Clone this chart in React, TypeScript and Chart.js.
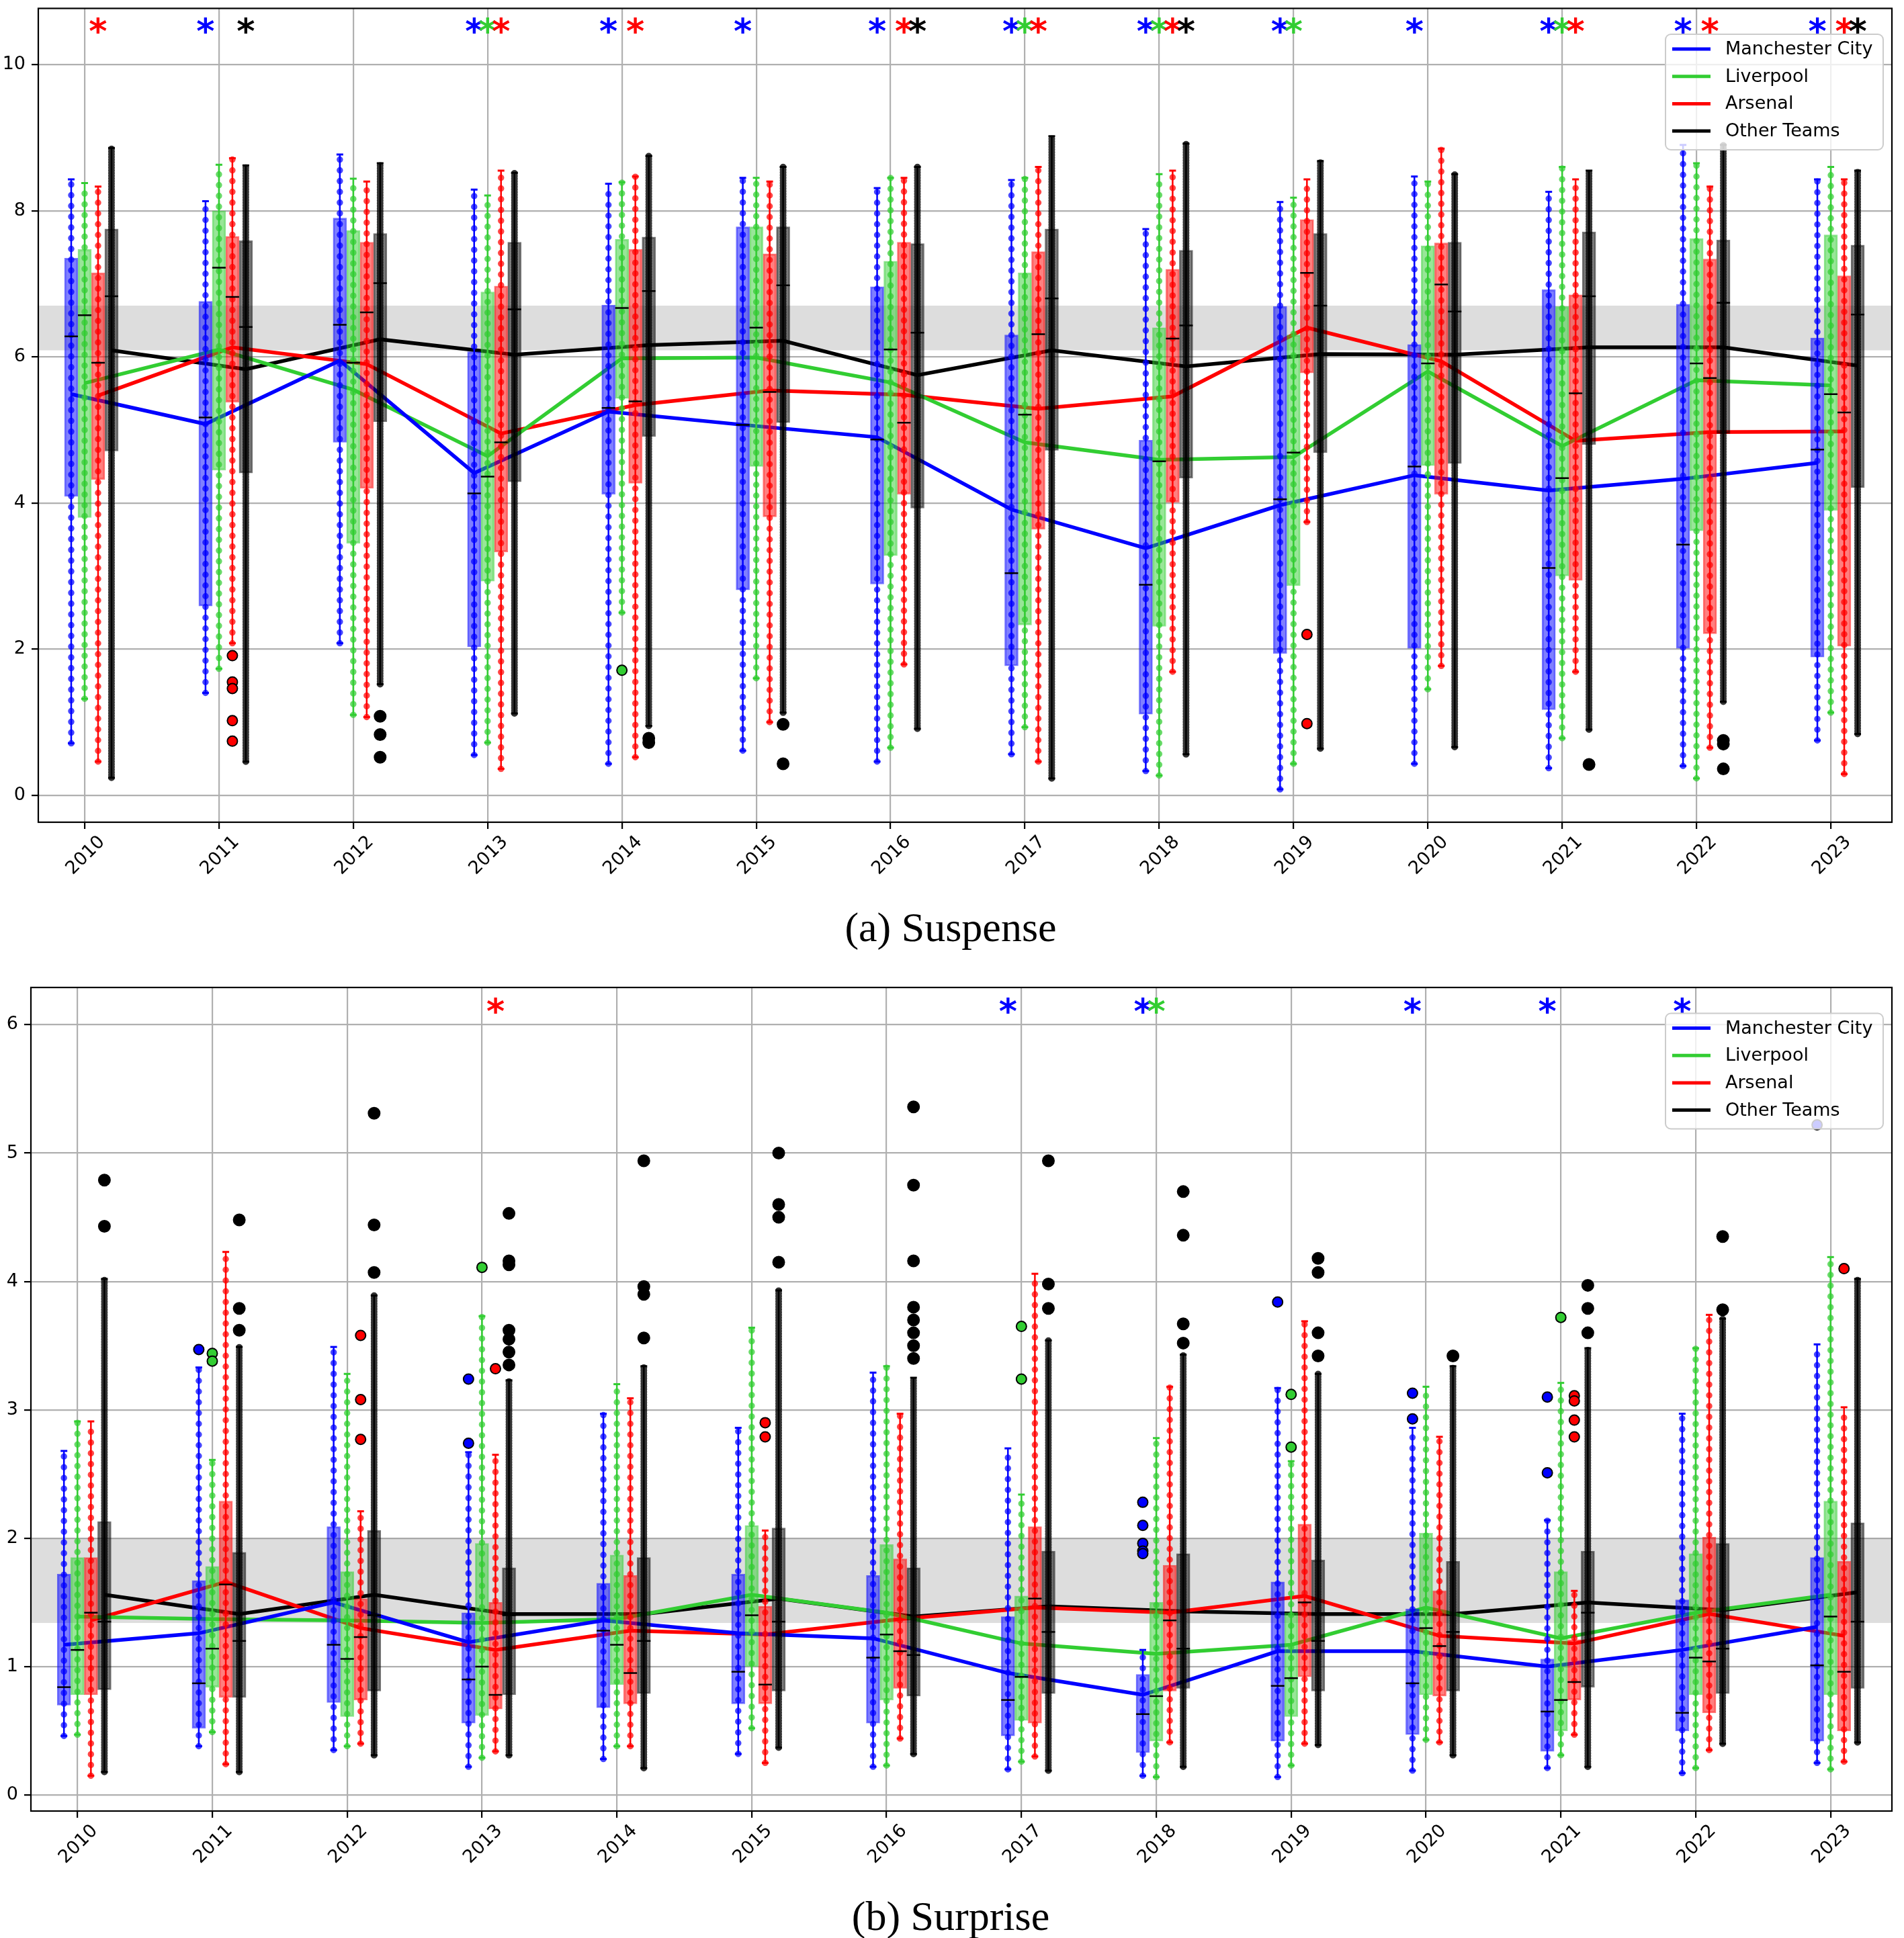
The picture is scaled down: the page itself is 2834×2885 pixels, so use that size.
import React, { useEffect, useRef } from 'react';
import { Chart, registerables } from 'chart.js';

Chart.register(...registerables);

// ---------- categories ----------
const YEARS = ['2010', '2011', '2012', '2013', '2014', '2015', '2016', '2017', '2018', '2019', '2020', '2021', '2022', '2023'];
const TEAMS = ['Manchester City', 'Liverpool', 'Arsenal', 'Other Teams'];

// box tuples: [whisker low, q1, median, q3, whisker high]
type Box = [number, number, number, number, number];

// ---------- (a) Suspense ----------
const SUS_Y_TICKS = [0, 2, 4, 6, 8, 10];
const SUS_BAND = [6.09, 6.7];
const SUS_SIG_Y = 10.54;
const SUS_BOX_MC: Box[] = [
  [0.71, 4.09, 6.28, 7.35, 8.43], [1.4, 2.59, 5.17, 6.76, 8.13], [2.08, 4.83, 6.44, 7.9, 8.77], [0.55, 2.03, 4.13, 6.07, 8.29],
  [0.43, 4.12, 5.3, 6.71, 8.37], [0.61, 2.81, 5.07, 7.78, 8.45], [0.46, 2.89, 4.87, 6.96, 8.31], [0.56, 1.77, 3.04, 6.3, 8.42],
  [0.33, 1.11, 2.88, 4.86, 7.75], [0.08, 1.94, 4.05, 6.69, 8.12], [0.43, 2.01, 4.5, 6.17, 8.47], [0.37, 1.17, 3.11, 6.92, 8.26],
  [0.4, 2.01, 3.43, 6.72, 8.9], [0.75, 1.89, 4.73, 6.26, 8.43],
];
const SUS_BOX_LIV: Box[] = [
  [1.32, 3.8, 6.57, 7.47, 8.38], [1.73, 4.45, 7.22, 8.0, 8.63], [1.1, 3.45, 5.92, 7.73, 8.44], [0.72, 2.93, 4.36, 6.89, 8.21],
  [2.5, 5.43, 6.67, 7.61, 8.39], [1.6, 4.5, 6.4, 7.78, 8.45], [0.65, 3.28, 6.1, 7.31, 8.45], [0.93, 2.33, 5.21, 7.15, 8.45],
  [0.27, 2.31, 4.57, 6.4, 8.5], [0.43, 2.87, 4.69, 6.3, 8.18], [1.45, 4.51, 5.91, 7.52, 8.4], [0.78, 3.0, 4.34, 6.69, 8.6],
  [0.23, 3.62, 5.91, 7.62, 8.65], [1.13, 3.9, 5.49, 7.67, 8.6],
];
const SUS_BOX_ARS: Box[] = [
  [0.46, 4.32, 5.92, 7.15, 8.33], [2.08, 5.38, 6.82, 7.65, 8.72], [1.07, 4.2, 6.61, 7.57, 8.4], [0.36, 3.33, 4.83, 6.97, 8.55],
  [0.52, 4.27, 5.39, 7.47, 8.47], [1.0, 3.81, 5.52, 7.41, 8.4], [1.79, 4.12, 5.1, 7.57, 8.45], [0.46, 3.64, 6.31, 7.44, 8.6],
  [1.69, 4.01, 6.25, 7.2, 8.55], [3.74, 5.78, 7.15, 7.88, 8.43], [1.77, 4.12, 6.99, 7.56, 8.85], [1.69, 2.94, 5.5, 6.85, 8.43],
  [0.65, 2.21, 5.71, 7.34, 8.33], [0.29, 2.04, 5.24, 7.11, 8.43],
];
const SUS_BOX_OTH: Box[] = [
  [0.24, 4.71, 6.83, 7.75, 8.86], [0.46, 4.41, 6.41, 7.59, 8.62], [1.52, 5.11, 7.01, 7.69, 8.65], [1.12, 4.29, 6.65, 7.57, 8.52],
  [0.95, 4.91, 6.9, 7.64, 8.75], [1.13, 5.1, 6.98, 7.78, 8.6], [0.91, 3.93, 6.33, 7.55, 8.6], [0.23, 4.72, 6.8, 7.75, 9.02],
  [0.56, 4.34, 6.43, 7.46, 8.92], [0.64, 4.69, 6.7, 7.69, 8.68], [0.66, 4.54, 6.62, 7.57, 8.5], [0.9, 4.8, 6.83, 7.71, 8.55],
  [1.28, 4.95, 6.74, 7.6, 8.9], [0.84, 4.21, 6.58, 7.53, 8.55],
];
const SUS_MEAN_MC = [5.49, 5.08, 5.95, 4.41, 5.25, 5.07, 4.9, 3.91, 3.38, 3.97, 4.38, 4.17, 4.33, 4.55];
const SUS_MEAN_LIV = [5.64, 6.1, 5.55, 4.64, 5.98, 5.99, 5.65, 4.83, 4.59, 4.63, 5.8, 4.78, 5.68, 5.61];
const SUS_MEAN_ARS = [5.47, 6.13, 5.9, 4.95, 5.34, 5.54, 5.48, 5.29, 5.46, 6.4, 5.94, 4.85, 4.97, 4.98];
const SUS_MEAN_OTH = [6.09, 5.83, 6.24, 6.03, 6.16, 6.22, 5.75, 6.09, 5.87, 6.04, 6.03, 6.13, 6.13, 5.88];
// outliers: [year index, value]
const SUS_OUT_MC: [number, number][] = [];
const SUS_OUT_LIV: [number, number][] = [[4, 1.71]];
const SUS_OUT_ARS: [number, number][] = [[1, 1.91], [1, 1.55], [1, 1.46], [1, 1.02], [1, 0.74], [9, 2.2], [9, 0.98]];
const SUS_OUT_OTH: [number, number][] = [
  [2, 1.08], [2, 0.83], [2, 0.52], [4, 0.78], [4, 0.72], [5, 0.97], [5, 0.43], [11, 0.42], [12, 0.75], [12, 0.7], [12, 0.36],
];
// significance marks: team indices per year
const SUS_SIG = [[2], [0, 3], [], [0, 1, 2], [0, 2], [0], [0, 2, 3], [0, 1, 2], [0, 1, 2, 3], [0, 1], [0], [0, 1, 2], [0, 2], [0, 2, 3]];

// ---------- (b) Surprise ----------
const SUR_Y_TICKS = [0, 1, 2, 3, 4, 5, 6];
const SUR_BAND = [1.34, 2.0];
const SUR_SIG_Y = 6.15;
const SUR_BOX_MC: Box[] = [
  [0.46, 0.7, 0.84, 1.72, 2.68], [0.38, 0.52, 0.87, 1.67, 3.33], [0.35, 0.72, 1.17, 2.09, 3.49], [0.22, 0.56, 0.9, 1.42, 2.67],
  [0.28, 0.68, 1.28, 1.65, 2.97], [0.32, 0.71, 0.96, 1.72, 2.86], [0.22, 0.56, 1.07, 1.71, 3.29], [0.2, 0.46, 0.74, 1.39, 2.7],
  [0.15, 0.33, 0.63, 0.94, 1.13], [0.14, 0.42, 0.85, 1.66, 3.17], [0.19, 0.47, 0.87, 1.45, 2.86], [0.21, 0.34, 0.65, 1.06, 2.14],
  [0.17, 0.5, 0.64, 1.52, 2.97], [0.25, 0.42, 1.01, 1.85, 3.51],
];
const SUR_BOX_LIV: Box[] = [
  [0.47, 0.78, 1.13, 1.85, 2.91], [0.49, 0.84, 1.14, 1.78, 2.61], [0.38, 0.61, 1.06, 1.74, 3.28], [0.29, 0.62, 1.0, 1.96, 3.73],
  [0.38, 0.86, 1.17, 1.87, 3.2], [0.52, 1.0, 1.4, 2.1, 3.64], [0.23, 0.74, 1.25, 1.95, 3.34], [0.26, 0.58, 0.92, 1.55, 2.34],
  [0.14, 0.42, 0.77, 1.5, 2.78], [0.23, 0.61, 0.91, 1.42, 2.6], [0.43, 0.78, 1.3, 2.04, 3.18], [0.31, 0.5, 0.74, 1.74, 3.21],
  [0.21, 0.78, 1.07, 1.88, 3.48], [0.2, 0.78, 1.39, 2.29, 4.19],
];
const SUR_BOX_ARS: Box[] = [
  [0.15, 0.78, 1.42, 1.85, 2.91], [0.24, 0.76, 1.64, 2.29, 4.23], [0.4, 0.74, 1.23, 1.53, 2.21], [0.34, 0.67, 0.78, 1.5, 2.65],
  [0.38, 0.71, 0.95, 1.71, 3.09], [0.25, 0.71, 0.86, 1.47, 2.06], [0.44, 0.83, 1.12, 1.84, 2.97], [0.3, 0.56, 1.53, 2.09, 4.06],
  [0.41, 0.81, 1.36, 1.79, 3.18], [0.4, 0.92, 1.5, 2.11, 3.69], [0.41, 0.77, 1.16, 1.59, 2.79], [0.47, 0.74, 0.88, 1.21, 1.59],
  [0.35, 0.64, 1.04, 2.01, 3.74], [0.26, 0.5, 0.96, 1.82, 3.02],
];
const SUR_BOX_OTH: Box[] = [
  [0.18, 0.82, 1.35, 2.13, 4.02], [0.18, 0.76, 1.2, 1.89, 3.49], [0.31, 0.81, 1.4, 2.06, 3.89], [0.31, 0.78, 1.4, 1.77, 3.23],
  [0.21, 0.79, 1.2, 1.85, 3.34], [0.37, 0.81, 1.35, 2.08, 3.93], [0.32, 0.77, 1.09, 1.77, 3.25], [0.19, 0.79, 1.27, 1.9, 3.54],
  [0.22, 0.83, 1.14, 1.88, 3.43], [0.39, 0.81, 1.2, 1.83, 3.28], [0.31, 0.81, 1.27, 1.82, 3.34], [0.22, 0.84, 1.42, 1.9, 3.48],
  [0.4, 0.79, 1.14, 1.96, 3.71], [0.41, 0.83, 1.35, 2.12, 4.02],
];
const SUR_MEAN_MC = [1.17, 1.26, 1.5, 1.19, 1.36, 1.26, 1.22, 0.95, 0.78, 1.12, 1.12, 1.0, 1.13, 1.31];
const SUR_MEAN_LIV = [1.39, 1.37, 1.36, 1.34, 1.37, 1.56, 1.42, 1.18, 1.1, 1.17, 1.46, 1.22, 1.42, 1.56];
const SUR_MEAN_ARS = [1.36, 1.66, 1.3, 1.13, 1.28, 1.25, 1.37, 1.46, 1.42, 1.55, 1.24, 1.18, 1.41, 1.24];
const SUR_MEAN_OTH = [1.56, 1.41, 1.56, 1.41, 1.41, 1.53, 1.39, 1.47, 1.43, 1.41, 1.41, 1.5, 1.44, 1.58];
const SUR_OUT_MC: [number, number][] = [
  [1, 3.47], [3, 3.24], [3, 2.74], [8, 2.28], [8, 2.1], [8, 1.96], [8, 1.9], [8, 1.88], [9, 3.84], [10, 3.13], [10, 2.93],
  [11, 3.1], [11, 2.51], [13, 5.22],
];
const SUR_OUT_LIV: [number, number][] = [[1, 3.44], [1, 3.38], [3, 4.11], [7, 3.65], [7, 3.24], [9, 3.12], [9, 2.71], [11, 3.72]];
const SUR_OUT_ARS: [number, number][] = [
  [2, 3.58], [2, 3.08], [2, 2.77], [3, 3.32], [5, 2.9], [5, 2.79], [11, 3.11], [11, 3.07], [11, 2.92], [11, 2.79], [13, 4.1],
];
const SUR_OUT_OTH: [number, number][] = [
  [0, 4.79], [0, 4.43], [1, 4.48], [1, 3.79], [1, 3.62], [2, 5.31], [2, 4.44], [2, 4.07],
  [3, 4.53], [3, 4.16], [3, 4.13], [3, 3.62], [3, 3.55], [3, 3.45], [3, 3.35],
  [4, 4.94], [4, 3.96], [4, 3.9], [4, 3.56], [5, 5.0], [5, 4.6], [5, 4.5], [5, 4.15],
  [6, 5.36], [6, 4.75], [6, 4.16], [6, 3.8], [6, 3.7], [6, 3.6], [6, 3.5], [6, 3.4],
  [7, 4.94], [7, 3.98], [7, 3.79], [8, 4.7], [8, 4.36], [8, 3.67], [8, 3.52],
  [9, 4.18], [9, 4.07], [9, 3.6], [9, 3.42], [10, 3.42], [11, 3.97], [11, 3.79], [11, 3.6], [12, 4.35], [12, 3.78],
];
const SUR_SIG = [[], [], [], [2], [], [], [], [0], [0, 1], [], [0], [0], [0], []];

// ---------- styling ----------
const RGB = ['0,0,255', '50,205,50', '255,0,0', '0,0,0'];
const OFFS = [-0.1, 0, 0.1, 0.2];
const X_MIN = -0.345;
const X_MAX = 13.455;
const TICK_FONT = { family: 'DejaVu Sans', size: 27 };

interface Spec {
  boxes: Box[][];
  means: number[][];
  outliers: [number, number][][];
  sig: number[][];
  sigY: number;
  band: number[];
  yTicks: number[];
  yMin: number;
  yMax: number;
}

const SUSPENSE: Spec = {
  boxes: [SUS_BOX_MC, SUS_BOX_LIV, SUS_BOX_ARS, SUS_BOX_OTH],
  means: [SUS_MEAN_MC, SUS_MEAN_LIV, SUS_MEAN_ARS, SUS_MEAN_OTH],
  outliers: [SUS_OUT_MC, SUS_OUT_LIV, SUS_OUT_ARS, SUS_OUT_OTH],
  sig: SUS_SIG,
  sigY: SUS_SIG_Y,
  band: SUS_BAND,
  yTicks: SUS_Y_TICKS,
  yMin: -0.37,
  yMax: 10.77,
};
const SURPRISE: Spec = {
  boxes: [SUR_BOX_MC, SUR_BOX_LIV, SUR_BOX_ARS, SUR_BOX_OTH],
  means: [SUR_MEAN_MC, SUR_MEAN_LIV, SUR_MEAN_ARS, SUR_MEAN_OTH],
  outliers: [SUR_OUT_MC, SUR_OUT_LIV, SUR_OUT_ARS, SUR_OUT_OTH],
  sig: SUR_SIG,
  sigY: SUR_SIG_Y,
  band: SUR_BAND,
  yTicks: SUR_Y_TICKS,
  yMin: -0.125,
  yMax: 6.29,
};

function makeDatasets(spec: Spec): any[] {
  const ds: any[] = [];
  ds.push({
    type: 'line', data: [{ x: X_MIN, y: spec.band[1] }, { x: X_MAX, y: spec.band[1] }],
    borderWidth: 0, borderColor: 'rgba(0,0,0,0)', pointRadius: 0, fill: false, order: 100,
  });
  ds.push({
    type: 'line', data: [{ x: X_MIN, y: spec.band[0] }, { x: X_MAX, y: spec.band[0] }],
    borderWidth: 0, borderColor: 'rgba(0,0,0,0)', pointRadius: 0, fill: '-1',
    backgroundColor: 'rgba(128,128,128,0.27)', order: 99,
  });
  TEAMS.forEach((_, t) => {
    const col = RGB[t];
    const off = OFFS[t];
    ds.push({
      type: 'line', data: spec.means[t].map((v, i) => ({ x: i + off, y: v })),
      borderColor: `rgb(${col})`, borderWidth: 5.5, pointRadius: 0, fill: false, order: 90,
    });
    ds.push({
      type: 'bar', data: spec.boxes[t].map((b, i) => ({ x: i + off, y: [b[1], b[3]] })),
      backgroundColor: `rgba(${col},0.5)`, borderColor: `rgba(${col},0.55)`, borderWidth: 2,
      borderSkipped: false, barThickness: 20, grouped: false, order: 80,
    });
    const seg = spec.boxes[t].flatMap((b, i) => [
      { x: i + off, y: b[0] }, { x: i + off, y: b[4] }, { x: i + off, y: null },
    ]);
    ds.push({
      type: 'line', data: seg, borderColor: `rgb(${col})`, borderWidth: 2.5, pointRadius: 0,
      spanGaps: false, fill: false, order: 70,
    });
    // whisker caps
    ds.push({
      type: 'scatter',
      data: spec.boxes[t].flatMap((b, i) => [{ x: i + off, y: b[0] }, { x: i + off, y: b[4] }]),
      pointStyle: 'line', pointRadius: 5, pointBorderWidth: 3, pointBorderColor: `rgb(${col})`,
      showLine: false, order: 65,
    });
    // strip of observations along the whisker
    ds.push({
      type: 'line', data: seg, borderColor: t === 3 ? 'rgba(0,0,0,0.8)' : `rgba(${col},0.72)`,
      borderWidth: t === 3 ? 10 : 9.5, borderDash: t === 3 ? [0, 4] : [0, 16], borderCapStyle: 'round', pointRadius: 0,
      spanGaps: false, fill: false, order: 60,
    });
    ds.push({
      type: 'scatter', data: spec.boxes[t].map((b, i) => ({ x: i + off, y: b[2] })),
      pointStyle: 'line', pointRadius: 10, pointBorderWidth: 2.5, pointBorderColor: '#000',
      pointBackgroundColor: '#000', showLine: false, order: 50,
    });
    ds.push({
      type: 'scatter', data: spec.outliers[t].map(([i, v]) => ({ x: i + off, y: v })),
      pointRadius: t === 3 ? 8.5 : 7.5, pointBackgroundColor: `rgb(${col})`, pointBorderColor: '#000',
      pointBorderWidth: 2, showLine: false, order: 40,
    });
  });
  return ds;
}

function buildChart(canvas: HTMLCanvasElement, spec: Spec, yAxisW: number, xAxisH: number, padTop: number) {
  const framePlugin = {
    id: 'frame',
    afterDraw(chart: any) {
      const { ctx, chartArea: a } = chart;
      ctx.save();
      ctx.strokeStyle = '#000';
      ctx.lineWidth = 2.2;
      ctx.strokeRect(a.left, a.top, a.right - a.left, a.bottom - a.top);
      ctx.restore();
    },
  };
  const sigPlugin = {
    id: 'sig',
    afterDatasetsDraw(chart: any) {
      const { ctx } = chart;
      const xs = chart.scales.x;
      const ys = chart.scales.y;
      ctx.save();
      ctx.font = 'bold 52px "DejaVu Sans"';
      ctx.textAlign = 'center';
      ctx.textBaseline = 'alphabetic';
      const m = ctx.measureText('*');
      const asc = m.actualBoundingBoxAscent;
      const desc = m.actualBoundingBoxDescent;
      const cy = ys.getPixelForValue(spec.sigY);
      spec.sig.forEach((teams, i) => {
        teams.forEach((t) => {
          ctx.fillStyle = `rgb(${RGB[t]})`;
          ctx.fillText('*', xs.getPixelForValue(i + OFFS[t]), cy + (asc - desc) / 2);
        });
      });
      ctx.restore();
    },
  };
  const legendPlugin = {
    id: 'customLegend',
    afterDraw(chart: any) {
      const { ctx, chartArea: a } = chart;
      const w = 324;
      const h = 172;
      const x0 = a.right - 13 - w;
      const y0 = a.top + 38.5;
      ctx.save();
      ctx.beginPath();
      ctx.roundRect(x0, y0, w, h, 8);
      ctx.fillStyle = 'rgba(255,255,255,0.8)';
      ctx.fill();
      ctx.strokeStyle = '#cccccc';
      ctx.lineWidth = 2;
      ctx.stroke();
      ctx.font = '27px "DejaVu Sans"';
      ctx.textAlign = 'left';
      ctx.textBaseline = 'middle';
      TEAMS.forEach((name, k) => {
        const cy = y0 + 22 + k * 40.7;
        ctx.strokeStyle = `rgb(${RGB[k]})`;
        ctx.lineWidth = 5;
        ctx.beginPath();
        ctx.moveTo(x0 + 10, cy);
        ctx.lineTo(x0 + 67, cy);
        ctx.stroke();
        ctx.fillStyle = '#000';
        ctx.fillText(name, x0 + 89, cy + 1);
      });
      ctx.restore();
    },
  };

  const gridOpts = {
    color: '#b0b0b0', lineWidth: 2.2, tickColor: '#000', tickLength: 10, tickWidth: 2.2, drawTicks: true, offset: false,
  };

  return new Chart(canvas, {
    type: 'bar',
    data: { datasets: makeDatasets(spec) },
    options: {
      responsive: false,
      animation: false,
      devicePixelRatio: 1,
      events: [],
      layout: { padding: { top: padTop, right: 18, left: 0, bottom: 0 } },
      plugins: { legend: { display: false }, tooltip: { enabled: false } },
      scales: {
        x: {
          type: 'linear',
          min: X_MIN,
          max: X_MAX,
          offset: false,
          afterBuildTicks: (ax: any) => { ax.ticks = YEARS.map((_, i) => ({ value: i })); },
          afterFit: (ax: any) => {
            ax.height = xAxisH;
            ax.paddingLeft = 0; ax.paddingRight = 0; ax.paddingTop = 0; ax.paddingBottom = 0;
          },
          ticks: {
            autoSkip: false, maxRotation: 45, minRotation: 45, font: TICK_FONT, color: '#000',
            padding: 4, labelOffset: 26,
            callback: (v: any) => YEARS[Math.round(Number(v))],
          },
          grid: gridOpts,
          border: { display: false },
        },
        y: {
          type: 'linear',
          min: spec.yMin,
          max: spec.yMax,
          afterBuildTicks: (ax: any) => { ax.ticks = spec.yTicks.map((v) => ({ value: v })); },
          afterFit: (ax: any) => {
            ax.width = yAxisW;
            ax.paddingLeft = 0; ax.paddingRight = 0; ax.paddingTop = 0; ax.paddingBottom = 0;
          },
          ticks: { font: TICK_FONT, color: '#000', padding: 9, callback: (v: any) => String(v) },
          grid: gridOpts,
          border: { display: false },
        },
      },
    } as any,
    plugins: [framePlugin, sigPlugin, legendPlugin],
  } as any);
}

const captionStyle: React.CSSProperties = {
  position: 'absolute', left: 0, width: 2830, textAlign: 'center',
  fontFamily: '"Liberation Serif", serif', fontSize: 62, lineHeight: '62px', color: '#000',
};

export default function App() {
  const r1 = useRef<HTMLCanvasElement>(null);
  const r2 = useRef<HTMLCanvasElement>(null);
  useEffect(() => {
    const c1 = buildChart(r1.current as HTMLCanvasElement, SUSPENSE, 57, 1330 - 1224, 5.5);
    const c2 = buildChart(r2.current as HTMLCanvasElement, SURPRISE, 46, 1380 - 1276, 50);
    return () => { c1.destroy(); c2.destroy(); };
  }, []);
  return (
    <div style={{ position: 'absolute', left: 0, top: 0, width: 2834, height: 2885, background: '#fff', overflow: 'hidden' }}>
      <canvas ref={r1} width={2834} height={1330} style={{ position: 'absolute', left: 0, top: 0, width: 2834, height: 1330 }} />
      <div style={{ ...captionStyle, top: 1349 }}>(a) Suspense</div>
      <canvas ref={r2} width={2834} height={1380} style={{ position: 'absolute', left: 0, top: 1420, width: 2834, height: 1380 }} />
      <div style={{ ...captionStyle, top: 2821 }}>(b) Surprise</div>
    </div>
  );
}
